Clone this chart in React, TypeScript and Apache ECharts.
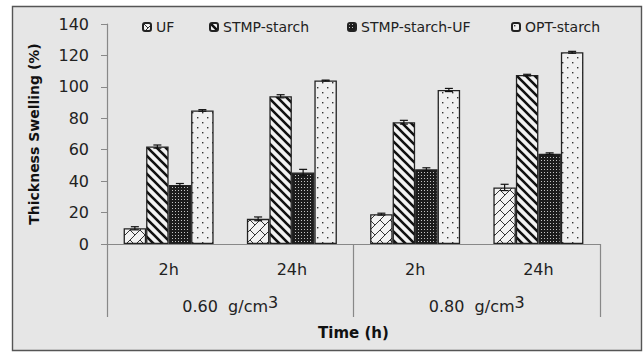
import React, { useEffect, useRef } from "react";
import * as echarts from "echarts";

const timeLabels = ["2h", "24h", "2h", "24h"];
const densityLabels = ["0.60  g/cm{s|3}", "0.80  g/cm{s|3}"];
const seriesNames = ["UF", "STMP-starch", "STMP-starch-UF", "OPT-starch"];
const ufValues = [10, 16, 19, 36];
const stmpValues = [62, 94, 77.5, 107.5];
const stmpUfValues = [37.5, 45.5, 47.5, 57.5];
const optValues = [85, 104, 98, 122];
const ufErr = [1, 1.2, 0.6, 2];
const stmpErr = [1, 1, 1.2, 0.5];
const stmpUfErr = [1, 2, 1, 0.5];
const optErr = [0.5, 0.3, 1, 0.6];
const yTicks = { min: 0, max: 140, interval: 20 };

function makeCanvas(w: number, h: number, draw: (ctx: CanvasRenderingContext2D) => void) {
  const c = document.createElement("canvas");
  c.width = w;
  c.height = h;
  const ctx = c.getContext("2d")!;
  draw(ctx);
  return c;
}

function patterns() {
  const uf = makeCanvas(10, 10, (ctx) => {
    ctx.fillStyle = "#f2f2f2";
    ctx.fillRect(0, 0, 10, 10);
    ctx.strokeStyle = "#333";
    ctx.lineWidth = 1;
    ctx.beginPath();
    ctx.moveTo(0, 10);
    ctx.lineTo(10, 0);
    ctx.moveTo(0, 0);
    ctx.lineTo(5, 5);
    ctx.stroke();
  });
  const stmp = makeCanvas(9, 9, (ctx) => {
    ctx.fillStyle = "#f2f2f2";
    ctx.fillRect(0, 0, 9, 9);
    ctx.strokeStyle = "#111";
    ctx.lineWidth = 2.6;
    ctx.beginPath();
    for (let k = -1; k <= 1; k++) {
      ctx.moveTo(k * 9 - 1, -1);
      ctx.lineTo(k * 9 + 10, 10);
    }
    ctx.stroke();
  });
  const stmpUf = makeCanvas(3, 3, (ctx) => {
    ctx.fillStyle = "#1c1c1c";
    ctx.fillRect(0, 0, 3, 3);
    ctx.fillStyle = "#c4c4c4";
    ctx.fillRect(1, 1, 1, 1);
  });
  const opt = makeCanvas(10, 10, (ctx) => {
    ctx.fillStyle = "#f0f0f0";
    ctx.fillRect(0, 0, 10, 10);
    ctx.fillStyle = "#333";
    ctx.fillRect(2, 2, 1.4, 1.4);
    ctx.fillRect(7, 7, 1.4, 1.4);
  });
  return [uf, stmp, stmpUf, opt];
}

export default function App() {
  const ref = useRef<HTMLDivElement>(null);
  useEffect(() => {
    document.body.style.margin = "0";
    const chart = echarts.init(ref.current!, null, { renderer: "svg" });
    const pats = patterns();
    const values = [ufValues, stmpValues, stmpUfValues, optValues];
    const errs = [ufErr, stmpErr, stmpUfErr, optErr];
    const barW = 22.5;
    const font = "DejaVu Sans";
    const legendLefts = [142, 209, 347, 511];
    const barSeries: any[] = seriesNames.map((name, i) => ({
      name,
      type: "bar",
      xAxisIndex: 0,
      data: values[i],
      barWidth: barW,
      barGap: "0%",
      itemStyle: {
        color: { image: pats[i], repeat: "repeat" },
        borderColor: "#222",
        borderWidth: 1.3,
      },
      z: 2,
    }));
    const errSeries: any[] = seriesNames.map((name, i) => ({
      name: name + "-err",
      type: "custom",
      xAxisIndex: 0,
      z: 5,
      data: values[i].map((v, j) => [j, v, errs[i][j]]),
      renderItem: (_p: any, api: any) => {
        const x = api.value(0);
        const v = api.value(1);
        const e = api.value(2);
        const top = api.coord([x, v + e]);
        const bot = api.coord([x, v - e]);
        const cx = top[0] + (i - 1.5) * barW;
        const cap = 4;
        const st = { stroke: "#111", lineWidth: 1.2 };
        return {
          type: "group",
          children: [
            { type: "line", shape: { x1: cx, y1: top[1], x2: cx, y2: bot[1] }, style: st },
            { type: "line", shape: { x1: cx - cap, y1: top[1], x2: cx + cap, y2: top[1] }, style: st },
            { type: "line", shape: { x1: cx - cap, y1: bot[1], x2: cx + cap, y2: bot[1] }, style: st },
          ],
        };
      },
    }));
    chart.setOption({
      animation: false,
      backgroundColor: "#ffffff",
      textStyle: { fontFamily: font },
      graphic: [
        {
          type: "rect",
          z: -10,
          silent: true,
          shape: { x: 12.5, y: 6.5, width: 629, height: 344 },
          style: { fill: "#e6e6e6", stroke: "#555", lineWidth: 1.4 },
        },
      ],
      legend: seriesNames.map((name, i) => ({
        data: [name],
        left: legendLefts[i],
        top: 20,
        padding: 0,
        itemWidth: 8,
        itemHeight: 8,
        textStyle: { fontFamily: font, fontSize: 14, color: "#222" },
      })),
      grid: { left: 107, right: 44, top: 24, bottom: 108 },
      xAxis: [
        {
          type: "category",
          data: timeLabels,
          position: "bottom",
          axisLine: { show: true, lineStyle: { color: "#888", width: 1.2 } },
          axisTick: { show: false },
          axisLabel: { margin: 17, fontSize: 16, color: "#222", fontFamily: font },
          name: "Time (h)",
          nameLocation: "middle",
          nameGap: 81,
          nameTextStyle: { fontWeight: "bold", fontSize: 15, color: "#111", fontFamily: font },
        },
        {
          type: "category",
          data: densityLabels,
          position: "bottom",
          axisLine: { show: false },
          axisTick: { show: true, length: 73, lineStyle: { color: "#888", width: 1.2 } },
          axisLabel: {
            margin: 50,
            fontSize: 16,
            color: "#222",
            fontFamily: font,
            rich: { s: { fontSize: 16, color: "#222", fontFamily: font, padding: [0, 0, 9, 0] } },
          },
        },
      ],
      yAxis: {
        type: "value",
        min: yTicks.min,
        max: yTicks.max,
        interval: yTicks.interval,
        axisLine: { show: true, lineStyle: { color: "#888", width: 1.2 } },
        axisTick: { show: true, length: 6, lineStyle: { color: "#888" } },
        splitLine: { show: false },
        axisLabel: { margin: 18, fontSize: 16, color: "#222", fontFamily: font },
        name: "Thickness Swelling (%)",
        nameLocation: "middle",
        nameGap: 66,
        nameTextStyle: { fontWeight: "bold", fontSize: 14, color: "#111", fontFamily: font },
      },
      series: [...barSeries, ...errSeries],
    });
    return () => chart.dispose();
  }, []);
  return <div ref={ref} style={{ width: 644, height: 352 }} />;
}
